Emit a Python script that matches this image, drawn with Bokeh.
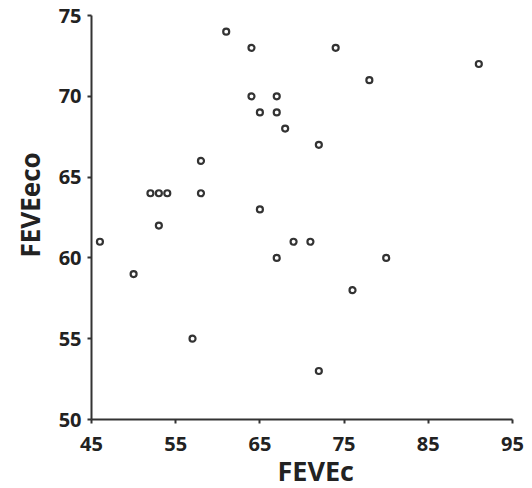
from bokeh.plotting import figure
from bokeh.models import Range1d, Title, ColumnDataSource
from bokeh.embed import file_html
from bokeh.resources import INLINE

# Data
fevec = [46, 50, 52, 53, 54, 53, 58, 58, 57, 61, 64, 64, 65, 65, 67, 67, 67, 68,
         69, 71, 72, 72, 74, 76, 78, 80, 91]
feveeco = [61, 59, 64, 64, 64, 62, 66, 64, 55, 74, 73, 70, 69, 63, 70, 69, 60, 68,
           61, 61, 67, 53, 73, 58, 71, 60, 72]
x_ticks = [45, 55, 65, 75, 85, 95]
y_ticks = [50, 55, 60, 65, 70, 75]
x_label = "FEVEc"
y_label = "FEVEeco"

FONT = "Open Sans"
TXT = "#222222"
AX = "#333333"

src = ColumnDataSource(dict(x=fevec, y=feveeco))

p = figure(width=532, height=488, output_backend="svg", toolbar_location=None,
           x_range=Range1d(45, 95), y_range=Range1d(50, 75),
           min_border_left=91, min_border_right=20, min_border_top=15,
           min_border_bottom=69)

p.scatter("x", "y", source=src, marker="circle", size=6, line_width=2.2,
          line_color=AX, fill_color="white")

p.grid.visible = False
p.outline_line_color = None
p.background_fill_color = "white"
p.border_fill_color = "white"

for ax, ticks in ((p.xaxis, x_ticks), (p.yaxis, y_ticks)):
    ax.ticker = ticks
    ax.axis_line_color = AX
    ax.axis_line_width = 2
    ax.major_tick_line_color = AX
    ax.major_tick_line_width = 2
    ax.major_tick_in = 0
    ax.major_tick_out = 4
    ax.minor_tick_line_color = None
    ax.major_label_text_font = FONT
    ax.major_label_text_font_style = "bold"
    ax.major_label_text_font_size = "20px"
    ax.major_label_text_color = TXT

p.xaxis.major_label_standoff = 13
p.yaxis.major_label_standoff = 6
p.yaxis.major_label_orientation = "horizontal"

xt = Title(text=x_label, align="left", offset=186, standoff=-8,
           text_font=FONT, text_font_style="bold", text_font_size="27px",
           text_color=TXT)
yt = Title(text=y_label, align="left", offset=162, standoff=11,
           vertical_align="top",
           text_font=FONT, text_font_style="bold", text_font_size="26px",
           text_color=TXT)
p.add_layout(xt, "below")
p.add_layout(yt, "left")

open("out.html", "w").write(file_html(p, INLINE))
